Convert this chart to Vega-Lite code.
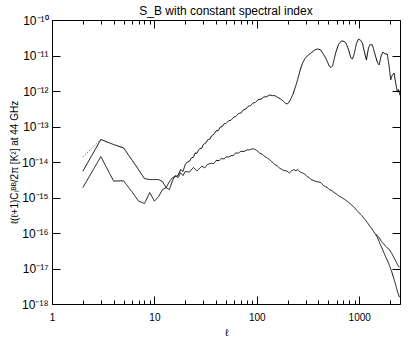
{
  "$schema": "https://vega.github.io/schema/vega-lite/v6.json",
  "autosize": {"type": "none"},
  "padding": {"left": 52, "top": 20, "right": 15, "bottom": 42},
  "width": 348,
  "height": 284,
  "background": "white",
  "config": {
    "view": {"stroke": null},
    "font": "Liberation Sans",
    "axis": {"grid": false, "domainColor": "#000", "tickColor": "#000", "labelColor": "#000", "titleColor": "#000", "labelFont": "Liberation Sans", "titleFont": "Liberation Sans", "titleFontWeight": "normal"}
  },
  "title": {"text": "S_B with constant spectral index", "fontSize": 12, "fontWeight": "normal", "font": "Liberation Sans", "color": "#000", "anchor": "middle", "offset": -4},
  "data": {"values": [
    {"s":"A","l":2,"v":5.5e-15},{"s":"A","l":3,"v":4.3e-14},{"s":"A","l":4,"v":3.1e-14},{"s":"A","l":5,"v":2.5e-14},{"s":"A","l":6,"v":1.17e-14},{"s":"A","l":7,"v":6.1e-15},{"s":"A","l":8,"v":3.4e-15},{"s":"A","l":9,"v":3.2e-15},{"s":"A","l":10,"v":3.2e-15},{"s":"A","l":11,"v":3.2e-15},{"s":"A","l":12,"v":2.8e-15},{"s":"A","l":13,"v":1.9e-15},{"s":"A","l":14,"v":2.8e-15},{"s":"A","l":15,"v":3.6e-15},{"s":"A","l":16,"v":3.9e-15},{"s":"A","l":17,"v":4.15e-15},{"s":"A","l":18,"v":6.1e-15},{"s":"A","l":19,"v":5.4e-15},{"s":"A","l":20,"v":8.5e-15},{"s":"A","l":21,"v":1.0e-14},{"s":"A","l":22,"v":1.05e-14},{"s":"A","l":23,"v":1.3e-14},{"s":"A","l":24,"v":1.35e-14},{"s":"A","l":25,"v":1.8e-14},{"s":"A","l":26,"v":1.75e-14},{"s":"A","l":27,"v":2.2e-14},{"s":"A","l":28,"v":2.4e-14},{"s":"A","l":29,"v":2.45e-14},{"s":"A","l":30,"v":3.1e-14},{"s":"A","l":32,"v":3.5e-14},{"s":"A","l":33,"v":4.2e-14},{"s":"A","l":35,"v":4.5e-14},{"s":"A","l":36,"v":5.4e-14},{"s":"A","l":38,"v":6.0e-14},{"s":"A","l":40,"v":7.5e-14},{"s":"A","l":42,"v":7.7e-14},{"s":"A","l":44,"v":9.6e-14},{"s":"A","l":46,"v":1.0e-13},{"s":"A","l":48,"v":1.2e-13},{"s":"A","l":50,"v":1.22e-13},{"s":"A","l":53,"v":1.45e-13},{"s":"A","l":56,"v":1.5e-13},{"s":"A","l":59,"v":1.8e-13},{"s":"A","l":62,"v":1.9e-13},{"s":"A","l":66,"v":2.3e-13},{"s":"A","l":70,"v":2.4e-13},{"s":"A","l":74,"v":2.95e-13},{"s":"A","l":78,"v":3.1e-13},{"s":"A","l":82,"v":3.7e-13},{"s":"A","l":87,"v":3.9e-13},{"s":"A","l":92,"v":4.6e-13},{"s":"A","l":97,"v":4.8e-13},{"s":"A","l":103,"v":5.7e-13},{"s":"A","l":110,"v":5.9e-13},{"s":"A","l":117,"v":6.8e-13},{"s":"A","l":125,"v":6.9e-13},{"s":"A","l":133,"v":7.7e-13},{"s":"A","l":142,"v":7.4e-13},{"s":"A","l":150,"v":7.4e-13},{"s":"A","l":160,"v":6.6e-13},{"s":"A","l":170,"v":6.0e-13},{"s":"A","l":180,"v":5.3e-13},{"s":"A","l":190,"v":4.5e-13},{"s":"A","l":197,"v":4.3e-13},{"s":"A","l":205,"v":4.7e-13},{"s":"A","l":215,"v":6.0e-13},{"s":"A","l":225,"v":8.0e-13},{"s":"A","l":233,"v":1.08e-12},{"s":"A","l":242,"v":1.5e-12},{"s":"A","l":250,"v":2.07e-12},{"s":"A","l":265,"v":3.9e-12},{"s":"A","l":280,"v":6.2e-12},{"s":"A","l":295,"v":8.2e-12},{"s":"A","l":310,"v":9.7e-12},{"s":"A","l":338,"v":1.18e-11},{"s":"A","l":370,"v":1.44e-11},{"s":"A","l":392,"v":1.53e-11},{"s":"A","l":420,"v":1.44e-11},{"s":"A","l":439,"v":1.18e-11},{"s":"A","l":460,"v":9.5e-12},{"s":"A","l":480,"v":7.5e-12},{"s":"A","l":510,"v":5.0e-12},{"s":"A","l":530,"v":4.6e-12},{"s":"A","l":549,"v":5.1e-12},{"s":"A","l":570,"v":8.0e-12},{"s":"A","l":592,"v":1.26e-11},{"s":"A","l":630,"v":2.1e-11},{"s":"A","l":671,"v":2.57e-11},{"s":"A","l":710,"v":2.5e-11},{"s":"A","l":741,"v":2.26e-11},{"s":"A","l":790,"v":1.4e-11},{"s":"A","l":829,"v":8.5e-12},{"s":"A","l":860,"v":8.0e-12},{"s":"A","l":892,"v":1.1e-11},{"s":"A","l":940,"v":2.2e-11},{"s":"A","l":983,"v":2.9e-11},{"s":"A","l":1030,"v":2.7e-11},{"s":"A","l":1075,"v":2.2e-11},{"s":"A","l":1120,"v":1.3e-11},{"s":"A","l":1175,"v":7.5e-12},{"s":"A","l":1230,"v":1.6e-11},{"s":"A","l":1268,"v":2.0e-11},{"s":"A","l":1343,"v":2.0e-11},{"s":"A","l":1400,"v":1.3e-11},{"s":"A","l":1449,"v":9.1e-12},{"s":"A","l":1500,"v":6.5e-12},{"s":"A","l":1563,"v":5.4e-12},{"s":"A","l":1640,"v":1.0e-11},{"s":"A","l":1709,"v":1.26e-11},{"s":"A","l":1780,"v":1.1e-11},{"s":"A","l":1880,"v":1.1e-11},{"s":"A","l":1950,"v":5.4e-12},{"s":"A","l":2029,"v":2.07e-12},{"s":"A","l":2100,"v":2.8e-12},{"s":"A","l":2184,"v":3.2e-12},{"s":"A","l":2260,"v":1.8e-12},{"s":"A","l":2353,"v":9.5e-13},{"s":"A","l":2420,"v":1.1e-12},{"s":"A","l":2500,"v":7.5e-13},
    {"s":"D","l":2,"v":1.4e-14},{"s":"D","l":3,"v":4.3e-14},
    {"s":"B","l":2,"v":1.9e-15},{"s":"B","l":3,"v":1.42e-14},{"s":"B","l":4,"v":2.9e-15},{"s":"B","l":5,"v":2.95e-15},{"s":"B","l":6,"v":1.48e-15},{"s":"B","l":7,"v":7.9e-16},{"s":"B","l":8,"v":6.8e-16},{"s":"B","l":9,"v":1.38e-15},{"s":"B","l":10,"v":7.9e-16},{"s":"B","l":11,"v":1.07e-15},{"s":"B","l":12,"v":1.68e-15},{"s":"B","l":13,"v":1.9e-15},{"s":"B","l":14,"v":1.68e-15},{"s":"B","l":15,"v":2.95e-15},{"s":"B","l":16,"v":4.15e-15},{"s":"B","l":17,"v":3.6e-15},{"s":"B","l":18,"v":5.0e-15},{"s":"B","l":19,"v":4.15e-15},{"s":"B","l":20,"v":5.4e-15},{"s":"B","l":22,"v":5.2e-15},{"s":"B","l":24,"v":7.0e-15},{"s":"B","l":26,"v":5.6e-15},{"s":"B","l":29,"v":7.6e-15},{"s":"B","l":31,"v":6.8e-15},{"s":"B","l":33,"v":8.6e-15},{"s":"B","l":36,"v":9.2e-15},{"s":"B","l":38,"v":9.0e-15},{"s":"B","l":40,"v":1.1e-14},{"s":"B","l":43,"v":1.1e-14},{"s":"B","l":45,"v":1.25e-14},{"s":"B","l":48,"v":1.22e-14},{"s":"B","l":50,"v":1.4e-14},{"s":"B","l":53,"v":1.38e-14},{"s":"B","l":56,"v":1.5e-14},{"s":"B","l":59,"v":1.52e-14},{"s":"B","l":62,"v":1.8e-14},{"s":"B","l":66,"v":1.78e-14},{"s":"B","l":70,"v":2.0e-14},{"s":"B","l":75,"v":1.98e-14},{"s":"B","l":80,"v":2.2e-14},{"s":"B","l":85,"v":2.2e-14},{"s":"B","l":90,"v":2.35e-14},{"s":"B","l":95,"v":2.3e-14},{"s":"B","l":100,"v":2.1e-14},{"s":"B","l":106,"v":1.8e-14},{"s":"B","l":113,"v":1.65e-14},{"s":"B","l":120,"v":1.42e-14},{"s":"B","l":126,"v":1.3e-14},{"s":"B","l":133,"v":1.17e-14},{"s":"B","l":141,"v":1.0e-14},{"s":"B","l":150,"v":8.5e-15},{"s":"B","l":158,"v":7.8e-15},{"s":"B","l":166,"v":6.8e-15},{"s":"B","l":175,"v":6.2e-15},{"s":"B","l":185,"v":5.7e-15},{"s":"B","l":196,"v":5.6e-15},{"s":"B","l":208,"v":4.9e-15},{"s":"B","l":218,"v":5.6e-15},{"s":"B","l":230,"v":6.1e-15},{"s":"B","l":240,"v":5.7e-15},{"s":"B","l":251,"v":6.1e-15},{"s":"B","l":265,"v":5.2e-15},{"s":"B","l":280,"v":4.9e-15},{"s":"B","l":295,"v":4.5e-15},{"s":"B","l":310,"v":3.9e-15},{"s":"B","l":325,"v":3.6e-15},{"s":"B","l":338,"v":3.2e-15},{"s":"B","l":360,"v":3.0e-15},{"s":"B","l":380,"v":2.8e-15},{"s":"B","l":400,"v":2.75e-15},{"s":"B","l":423,"v":2.6e-15},{"s":"B","l":445,"v":2.2e-15},{"s":"B","l":470,"v":2.0e-15},{"s":"B","l":490,"v":1.9e-15},{"s":"B","l":510,"v":1.68e-15},{"s":"B","l":540,"v":1.55e-15},{"s":"B","l":570,"v":1.38e-15},{"s":"B","l":600,"v":1.25e-15},{"s":"B","l":637,"v":1.09e-15},{"s":"B","l":680,"v":9.8e-16},{"s":"B","l":720,"v":8.8e-16},{"s":"B","l":760,"v":7.9e-16},{"s":"B","l":797,"v":7.1e-16},{"s":"B","l":850,"v":6.0e-16},{"s":"B","l":900,"v":5.2e-16},{"s":"B","l":950,"v":4.3e-16},{"s":"B","l":998,"v":3.7e-16},{"s":"B","l":1050,"v":3.2e-16},{"s":"B","l":1100,"v":2.7e-16},{"s":"B","l":1150,"v":2.3e-16},{"s":"B","l":1202,"v":1.95e-16},{"s":"B","l":1260,"v":1.6e-16},{"s":"B","l":1320,"v":1.35e-16},{"s":"B","l":1380,"v":1.1e-16},{"s":"B","l":1449,"v":9.1e-17},{"s":"B","l":1500,"v":8.5e-17},{"s":"B","l":1560,"v":7.5e-17},{"s":"B","l":1620,"v":6.2e-17},{"s":"B","l":1683,"v":5.3e-17},{"s":"B","l":1740,"v":4.9e-17},{"s":"B","l":1800,"v":4.3e-17},{"s":"B","l":1880,"v":3.8e-17},{"s":"B","l":1954,"v":3.5e-17},{"s":"B","l":2070,"v":2.7e-17},{"s":"B","l":2186,"v":2.0e-17},{"s":"B","l":2280,"v":1.6e-17},{"s":"B","l":2353,"v":1.31e-17},{"s":"B","l":2470,"v":1.08e-17},
    {"s":"C","l":1449,"v":9.1e-17},{"s":"C","l":1500,"v":7.6e-17},{"s":"C","l":1560,"v":5.8e-17},{"s":"C","l":1620,"v":4.5e-17},{"s":"C","l":1683,"v":3.5e-17},{"s":"C","l":1740,"v":2.8e-17},{"s":"C","l":1800,"v":2.2e-17},{"s":"C","l":1880,"v":1.7e-17},{"s":"C","l":1954,"v":1.31e-17},{"s":"C","l":2070,"v":8.3e-18},{"s":"C","l":2186,"v":5.0e-18},{"s":"C","l":2280,"v":3.3e-18},{"s":"C","l":2353,"v":2.3e-18},{"s":"C","l":2470,"v":1.55e-18}
  ]},
  "layer": [
    {
      "mark": {"type": "line", "strokeWidth": 1, "clip": true, "interpolate": "linear"},
      "encoding": {
        "x": {"field": "l", "type": "quantitative", "scale": {"type": "log", "domain": [1, 2500], "nice": false},
          "axis": {"orient": "bottom", "values": [1, 10, 100, 1000], "tickSize": -8, "labelPadding": 16, "labelFontSize": 10, "labelFlush": false, "title": "ℓ", "titleFontSize": 10, "titlePadding": 5, "format": "d"}},
        "y": {"field": "v", "type": "quantitative", "scale": {"type": "log", "domain": [1e-18, 1e-10], "nice": false},
          "axis": {"orient": "left", "values": [1e-18, 1e-17, 1e-16, 1e-15, 1e-14, 1e-13, 1e-12, 1e-11, 1e-10], "tickSize": -8, "labelPadding": 12, "labelFontSize": 12, "labelFlush": false,
            "labelExpr": "'10' + ['⁻¹⁸','⁻¹⁷','⁻¹⁶','⁻¹⁵','⁻¹⁴','⁻¹³','⁻¹²','⁻¹¹','⁻¹⁰'][round(log(datum.value)/LN10)+18]",
            "title": "ℓ(ℓ+1)Cₗᴮᴮ/2π  [K²]  at 44 GHz", "titleFontSize": 10, "titlePadding": 2}},
        "color": {"field": "s", "type": "nominal", "scale": {"domain": ["A", "B", "C", "D"], "range": ["#000000", "#111111", "#111111", "#333333"]}, "legend": null},
        "strokeDash": {"field": "s", "type": "nominal", "scale": {"domain": ["A", "B", "C", "D"], "range": [[1, 0], [1, 0], [1, 0], [1, 2]]}, "legend": null}
      }
    },
    {
      "mark": {"type": "point", "opacity": 0},
      "encoding": {
        "x": {"field": "l", "type": "quantitative", "axis": {"orient": "bottom", "values": [2,3,4,5,6,7,8,9,20,30,40,50,60,70,80,90,200,300,400,500,600,700,800,900,2000], "tickSize": -4, "labels": false, "domain": false, "title": null}},
        "y": {"field": "v", "type": "quantitative", "axis": {"orient": "right", "values": [1e-18, 1e-17, 1e-16, 1e-15, 1e-14, 1e-13, 1e-12, 1e-11, 1e-10], "tickSize": -8, "labels": false, "title": null}}
      }
    },
    {
      "mark": {"type": "point", "opacity": 0},
      "encoding": {
        "x": {"field": "l", "type": "quantitative", "axis": {"orient": "top", "values": [1, 10, 100, 1000], "tickSize": -8, "labels": false, "title": null}},
        "y": {"field": "v", "type": "quantitative", "axis": null}
      }
    },
    {
      "mark": {"type": "point", "opacity": 0},
      "encoding": {
        "x": {"field": "l", "type": "quantitative", "axis": {"orient": "top", "values": [2,3,4,5,6,7,8,9,20,30,40,50,60,70,80,90,200,300,400,500,600,700,800,900,2000], "tickSize": -4, "labels": false, "domain": false, "title": null}},
        "y": {"field": "v", "type": "quantitative", "axis": null}
      }
    }
  ],
  "resolve": {"axis": {"x": "independent", "y": "independent"}}
}
